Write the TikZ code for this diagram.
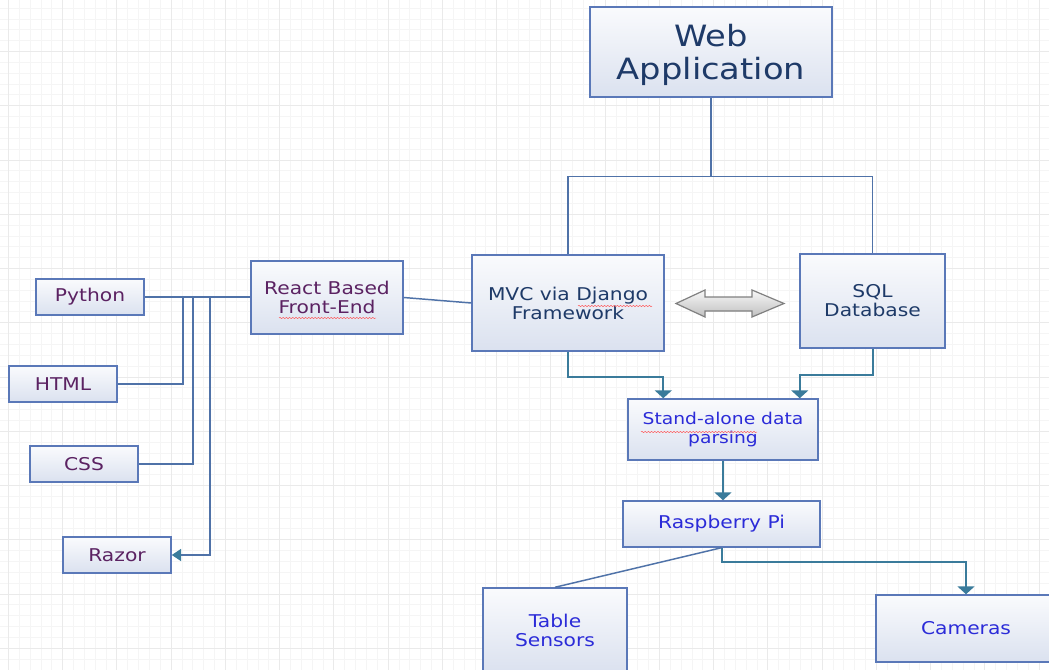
\documentclass[tikz,border=0pt]{standalone}
\usepackage{fontspec}
\newfontfamily\df[FakeStretch=1.15]{DejaVu Sans}
\usetikzlibrary{arrows.meta,decorations.pathmorphing}
\definecolor{boxc}{HTML}{5A78B8}
\definecolor{linec}{HTML}{4F72A8}
\definecolor{tealc}{HTML}{3A7B9B}
\definecolor{purp}{HTML}{5B2262}
\definecolor{navy}{HTML}{1E3A68}
\definecolor{bluet}{HTML}{2B2BD8}
\definecolor{gfine}{HTML}{F5F5F5}
\definecolor{gmaj}{HTML}{EAEAEA}
\tikzset{
  box/.style={draw=boxc, line width=1.1pt, top color=white!60!boxc!8, bottom color=boxc!22, inner sep=0pt, align=center, font=\df\fontsize{13.2}{14.25}\selectfont},
  tree/.style={draw=linec, line width=1.1pt},
  arr/.style={draw=tealc, line width=1.5pt, -{Triangle[width=12.75pt,length=6pt]}},
  squig/.style={draw=red!65, line width=0.35pt, decorate, decoration={snake, segment length=2.4pt, amplitude=0.5pt}}
}
\begin{document}
\begin{tikzpicture}[x=0.75pt,y=-0.75pt]
\useasboundingbox (0,0) rectangle (1049,670);
\begin{scope}
\clip (0,0) rectangle (1049,670);
\fill[white] (0,0) rectangle (1049,670);
\foreach \i in {0,...,96} \draw[gfine, line width=0.5pt] ({8.3+10.85*\i},0) -- ({8.3+10.85*\i},670);
\foreach \j in {0,...,62} \draw[gfine, line width=0.5pt] (0,{8+10.85*\j}) -- (1049,{8+10.85*\j});
\foreach \i in {0,...,19} \draw[gmaj, line width=0.5pt] ({8.3+54.25*\i},0) -- ({8.3+54.25*\i},670);
\foreach \j in {1,...,12} \draw[gmaj, line width=0.5pt] (0,{-2.85+54.25*\j}) -- (1049,{-2.85+54.25*\j});

% nodes
\node[box, minimum width=181.5pt, minimum height=67.5pt, text=navy, text depth=0pt, font=\df\fontsize{22}{24.75}\selectfont] (web) at (711,52) {Web\\Application};
\node[box, minimum width=114pt, minimum height=54.75pt, text=purp] (react) at (327,297.5) {React Based\\Front-End};
\node[box, minimum width=81pt, minimum height=27pt, text=purp] (python) at (90,297) {Python};
\node[box, minimum width=81pt, minimum height=27pt, text=purp] (html) at (63,384) {HTML};
\node[box, minimum width=81pt, minimum height=27pt, text=purp] (css) at (84,464) {CSS};
\node[box, minimum width=81pt, minimum height=27pt, text=purp] (razor) at (117,555) {Razor};
\node[box, minimum width=144pt, minimum height=72pt, text=navy] (mvc) at (568,303) {MVC via Django\\Framework};
\node[box, minimum width=108.75pt, minimum height=70.5pt, text=navy] (sql) at (872.5,301) {SQL\\Database};
\node[box, minimum width=142.5pt, minimum height=45.75pt, text=bluet, font=\df\fontsize{12.2}{14.25}\selectfont] (parse) at (723,429.5) {Stand-alone data\\parsing};
\node[box, minimum width=147.75pt, minimum height=34.5pt, text=bluet] (pi) at (721.5,524) {Raspberry Pi};
\node[box, minimum width=108pt, minimum height=63pt, text=bluet] (sensors) at (555,630) {Table\\Sensors};
\node[box, minimum width=135pt, minimum height=50.25pt, text=bluet] (cameras) at (966,628.5) {Cameras};

% double block arrow between MVC and SQL
\path[draw=black!50, line width=0.9pt, top color=black!3, bottom color=black!25]
  (676,303.5) -- (705,290) -- (705,297) -- (752,297) -- (752,290) -- (784,303.5)
  -- (752,317) -- (752,311) -- (705,311) -- (705,317) -- cycle;

% web to mvc/sql
\draw[tree] (web.south) -- ++(0,79) coordinate (j);
\draw[tree] (mvc.north) |- (j) -| (sql.north);

% tree on left
\draw[tree] (python.east) -- (python.east -| react.west);
\coordinate (b1) at (183,297);
\coordinate (b2) at (193,297);
\coordinate (b3) at (210,297);
\draw[tree] (b1) |- (html.east);
\draw[tree] (b2) |- (css.east);
\draw[tree, -{Triangle[width=9pt,length=7pt,color=tealc]}] (b3) |- (razor.east);
\draw[tree] (react.east) -- (mvc.west);

% teal arrows
\coordinate (pa) at ([xshift=27pt]parse.north west);
\coordinate (pb) at ([xshift=-14.25pt]parse.north east);
\draw[arr] (mvc.south) -- ++(0,25) -| (pa);
\draw[arr] (sql.south) -- ++(0,26) -| (pb);
\draw[arr] (parse.south) -- (parse.south |- pi.north);
\draw[arr] (pi.south) -- ++(0,14) -| (cameras.north);
\draw[tree] (pi.south) -- (sensors.north);

% spell-check squiggles
\draw[squig] (279,318) -- (376,318);
\draw[squig] (578,306) -- (652,306);
\draw[squig] (641,432) -- (757,432);
\end{scope}
\end{tikzpicture}
\end{document}
